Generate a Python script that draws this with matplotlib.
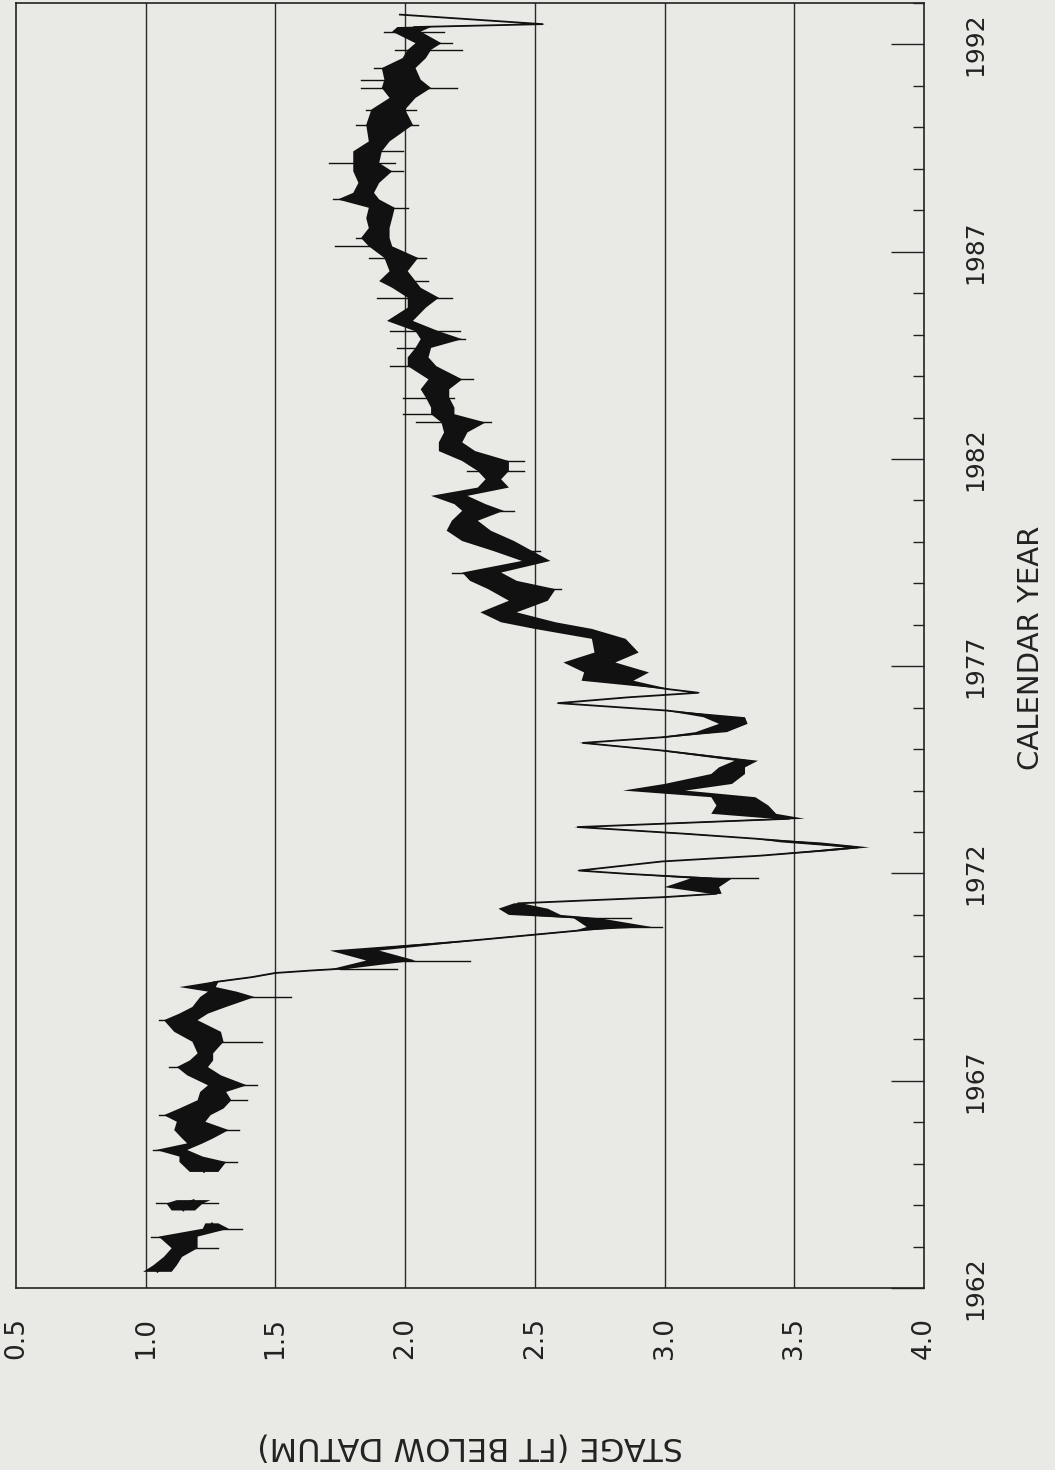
"""
Stage hydrograph, 1962-1992, drawn in the rotated (portrait) layout of the scan.
"""

import matplotlib

matplotlib.use('Agg')
import matplotlib.pyplot as plt
import numpy as np
from matplotlib.ticker import MultipleLocator

# sample times (calendar year) with the dense core of the daily trace (ft below datum)
years = [
    1962.39, 1962.55, 1962.75, 1962.96, 1963.24, 1963.43, 1963.56, 1963.70,
    1963.87, 1964.04, 1964.12, 1964.40,
    1964.80, 1965.04, 1965.17, 1965.33, 1965.49, 1965.61, 1965.81, 1966.01,
    1966.17, 1966.33, 1966.53, 1966.73, 1966.89, 1967.13, 1967.33, 1967.49,
    1967.66, 1967.94, 1968.18, 1968.46, 1968.62, 1968.78, 1969.02, 1969.15,
    1969.26, 1969.38, 1969.50, 1969.60, 1969.66, 1969.70, 1969.90, 1970.14,
    1970.39, 1970.63, 1970.71, 1970.92, 1971.00, 1971.15, 1971.28, 1971.43,
    1971.51, 1971.67, 1971.88, 1971.99, 1972.07, 1972.29, 1972.43, 1972.55,
    1972.63, 1972.75, 1972.84, 1972.96, 1973.12, 1973.32, 1973.44, 1973.64,
    1973.84, 1974.00, 1974.16, 1974.40, 1974.56, 1974.72, 1974.96, 1975.15,
    1975.29, 1975.41, 1975.61, 1975.77, 1975.93, 1976.11, 1976.25, 1976.36,
    1976.45, 1976.65, 1976.85, 1977.09, 1977.33, 1977.66, 1977.90, 1978.06,
    1978.30, 1978.58, 1978.86, 1979.06, 1979.26, 1979.54, 1979.78, 1980.02,
    1980.27, 1980.51, 1980.75, 1980.91, 1981.11, 1981.31, 1981.51, 1981.71,
    1981.95, 1982.19, 1982.40, 1982.64, 1982.88, 1983.08, 1983.24, 1983.48,
    1983.68, 1983.92, 1984.24, 1984.45, 1984.68, 1984.89, 1985.08, 1985.33,
    1985.65, 1985.89, 1986.13, 1986.29, 1986.53, 1986.85, 1987.13, 1987.33,
    1987.57, 1987.81, 1988.06, 1988.26, 1988.42, 1988.66, 1988.94, 1989.14,
    1989.42, 1989.66, 1990.06, 1990.43, 1990.71, 1990.95, 1991.15, 1991.43,
    1991.67, 1991.87, 1992.03, 1992.31, 1992.42, 1992.49, 1992.72,
]
core_lo = [
    0.99, 1.03, 1.07, 1.10, 1.05, 1.22, 1.23, np.nan,
    1.10, 1.08, 1.12, np.nan,
    1.17, 1.13, 1.13, 1.04, 1.16, 1.14, 1.11, 1.12,
    1.07, 1.13, 1.20, 1.21, 1.24, 1.16, 1.12, 1.17,
    1.20, 1.18, 1.11, 1.07, 1.13, 1.18, 1.21, 1.24,
    1.13, 1.25, 1.40, 1.49, 1.62, 1.72, 1.85, 1.71,
    2.25, 2.66, 2.70, 2.65, 2.40, 2.36, 2.42, 2.98,
    3.18, 3.00, 3.10, 2.84, 2.66, 2.98, 3.36, 3.57,
    3.70, 3.45, 3.34, 3.05, 2.65, 3.42, 3.18, 3.20,
    3.18, 2.84, 3.00, 3.18, 3.21, 3.27, 2.98, 2.67,
    2.98, 3.12, 3.21, 3.15, 3.00, 2.58, 2.85, 3.12,
    3.00, 2.68, 2.69, 2.61, 2.73, 2.72, 2.50, 2.37,
    2.29, 2.40, 2.32, 2.25, 2.22, 2.45, 2.34, 2.22,
    2.16, 2.18, 2.22, 2.19, 2.10, 2.28, 2.31, 2.28,
    2.22, 2.13, 2.13, 2.15, 2.14, 2.10, 2.10, 2.08,
    2.06, 2.09, 2.01, 2.01, 2.04, 2.06, 2.04, 1.93,
    2.01, 2.01, 1.95, 1.90, 1.94, 1.92, 1.86, 1.83,
    1.86, 1.85, 1.86, 1.74, 1.80, 1.82, 1.80, 1.80,
    1.80, 1.86, 1.85, 1.87, 1.94, 1.91, 1.92, 1.91,
    1.99, 2.01, 2.04, 1.95, 1.97, 2.52, 1.97,
]
core_hi = [
    1.10, 1.12, 1.14, 1.20, 1.20, 1.32, 1.28, np.nan,
    1.19, 1.22, 1.25, np.nan,
    1.28, 1.31, 1.22, 1.16, 1.22, 1.26, 1.32, 1.23,
    1.25, 1.30, 1.33, 1.31, 1.39, 1.29, 1.24, 1.26,
    1.26, 1.30, 1.29, 1.20, 1.24, 1.31, 1.42, 1.35,
    1.27, 1.28, 1.42, 1.51, 1.66, 1.78, 2.04, 1.90,
    2.29, 2.70, 2.95, 2.75, 2.60, 2.55, 2.45, 3.02,
    3.22, 3.21, 3.26, 2.88, 2.68, 3.00, 3.38, 3.65,
    3.79, 3.60, 3.36, 3.10, 2.68, 3.54, 3.43, 3.40,
    3.35, 3.08, 3.26, 3.31, 3.31, 3.36, 3.02, 2.70,
    3.02, 3.24, 3.32, 3.31, 3.02, 2.60, 2.87, 3.14,
    3.02, 2.88, 2.94, 2.81, 2.90, 2.85, 2.72, 2.58,
    2.43, 2.55, 2.58, 2.43, 2.37, 2.56, 2.49, 2.42,
    2.33, 2.28, 2.38, 2.31, 2.24, 2.40, 2.37, 2.40,
    2.40, 2.27, 2.22, 2.24, 2.31, 2.19, 2.19, 2.17,
    2.17, 2.22, 2.12, 2.09, 2.10, 2.22, 2.13, 2.03,
    2.08, 2.13, 2.06, 2.04, 2.01, 2.05, 1.95, 1.94,
    1.94, 1.95, 1.96, 1.90, 1.88, 1.90, 1.95, 1.90,
    1.91, 1.94, 2.03, 2.00, 2.04, 2.10, 2.06, 2.04,
    2.08, 2.10, 2.14, 2.06, 2.10, 2.54, 1.99,
]

# isolated daily excursions sticking out of the core
spike_years = [
    1962.96, 1963.24, 1963.43, 1964.04, 1964.04, 1965.04, 1965.33, 1965.81,
    1966.17, 1966.53, 1966.89, 1967.33, 1967.94, 1968.46, 1969.02, 1969.70,
    1969.90, 1970.71, 1970.92, 1971.88, 1978.86, 1979.26, 1979.78, 1980.75,
    1981.71, 1981.71, 1981.95, 1982.88, 1982.88, 1983.08, 1983.48, 1983.48,
    1983.92, 1984.24, 1984.68, 1984.89, 1985.08, 1985.08, 1985.89, 1985.89,
    1986.29, 1986.85, 1986.85, 1987.13, 1987.33, 1988.06, 1988.26, 1988.94,
    1989.14, 1989.14, 1989.42, 1990.06, 1990.06, 1990.43, 1990.43, 1990.95,
    1990.95, 1991.15, 1991.43, 1991.87, 1991.87, 1992.03, 1992.31, 1992.31,
]
spike_tips = [
    1.28, 1.02, 1.37, 1.04, 1.28, 1.35, 1.03, 1.36,
    1.05, 1.39, 1.43, 1.09, 1.45, 1.05, 1.56, 1.97,
    2.25, 2.99, 2.87, 3.36, 2.60, 2.18, 2.52, 2.42,
    2.24, 2.46, 2.46, 2.04, 2.33, 1.99, 1.99, 2.19,
    2.26, 1.94, 1.97, 2.23, 1.94, 2.21, 1.89, 2.18,
    2.09, 1.86, 2.08, 1.73, 1.81, 2.01, 1.72, 1.99,
    1.705, 1.96, 1.99, 1.81, 2.05, 1.85, 2.04, 2.20,
    1.83, 1.83, 1.88, 2.22, 1.96, 2.18, 1.92, 2.15,
]

stage_ticks = [0.5, 1.0, 1.5, 2.0, 2.5, 3.0, 3.5, 4.0]
stage_labels = ['0.5', '1.0', '1.5', '2.0', '2.5', '3.0', '3.5', '4.0']
grid_stages = [1.0, 1.5, 2.0, 2.5, 3.0, 3.5]
year_ticks = [1962, 1967, 1972, 1977, 1982, 1987, 1992]

BG = '#e9eae5'
INK = '#111111'

fig = plt.figure(figsize=(10.55, 14.7), dpi=100, facecolor=BG)
W, H = 1055, 1470
ax = fig.add_axes((16 / W, 1 - 1288 / H, (924 - 16) / W, (1288 - 3) / H))
ax.set_facecolor(BG)

yr = np.array(years)
lo = np.array(core_lo)
hi = np.array(core_hi)
mid = 0.5 * (lo + hi)

# grid lines at every half foot
for s in grid_stages:
    ax.axvline(s, color='#2a2a2a', lw=1.0, zorder=1)

# dense core of the record
ax.fill_betweenx(yr, lo, hi, color=INK, lw=0, zorder=3)
ax.plot(mid, yr, color=INK, lw=1.3, zorder=3)

# single-day excursions, drawn from the core centre out to the tip
sy = np.array(spike_years)
idx = np.abs(yr[None, :] - sy[:, None]).argmin(axis=1)
for t_year, k, tip in zip(sy, idx, spike_tips):
    ax.plot([mid[k], tip], [t_year, t_year], color=INK, lw=1.0, zorder=3)

ax.set_xlim(0.5, 4.0)
ax.set_ylim(1962, 1993)

ax.set_xticks(stage_ticks)
ax.set_xticklabels(stage_labels)
ax.tick_params(axis='x', length=0, pad=21, labelsize=19, labelrotation=90, colors='#222222')

ax.yaxis.tick_right()
ax.set_yticks(year_ticks)
ax.yaxis.set_minor_locator(MultipleLocator(1))
ax.tick_params(axis='y', which='major', direction='in', length=24, width=1.0,
               pad=28, labelsize=18, labelrotation=90, colors='#222222')
ax.tick_params(axis='y', which='minor', direction='in', length=8, width=1.0, color='#222222')
for lab in ax.get_yticklabels():
    lab.set_verticalalignment('center')

for sp in ax.spines.values():
    sp.set_linewidth(1.2)
    sp.set_color('#222222')

fig.text(1031 / W, 1 - 648 / H, 'CALENDAR YEAR', rotation=90, ha='center', va='center',
         fontsize=21, color='#222222')
fig.text(470 / W, 1 - 1446 / H, 'STAGE (FT BELOW DATUM)', rotation=180, ha='center',
         va='center', fontsize=23, color='#222222')

fig.savefig('out.png', dpi=100, facecolor=BG)
